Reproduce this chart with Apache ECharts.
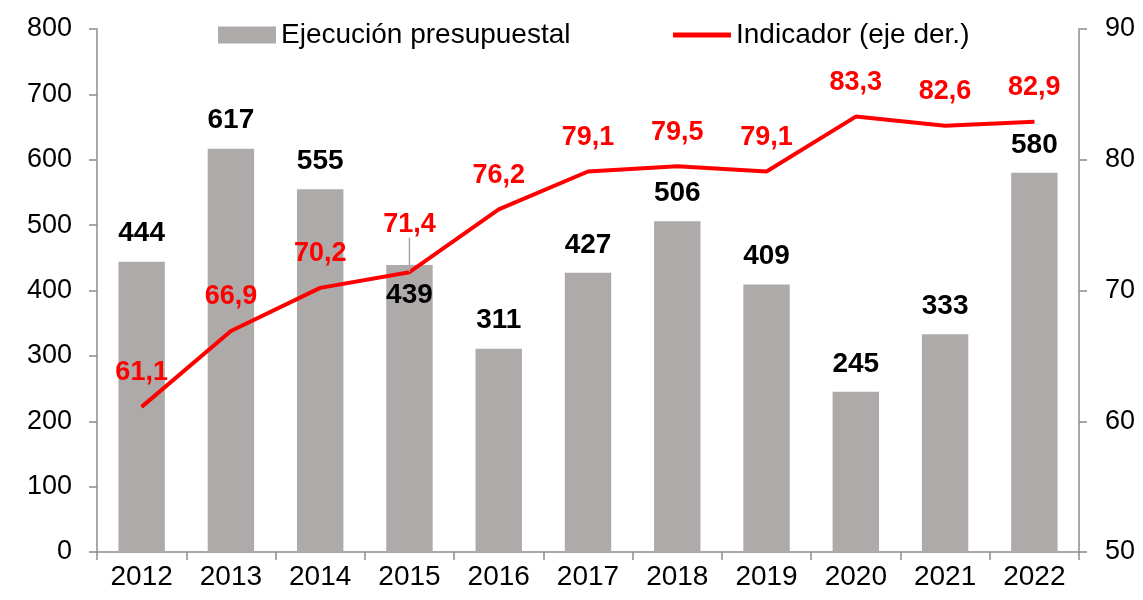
<!DOCTYPE html>
<html>
<head>
<meta charset="utf-8">
<script src="https://cdn.jsdelivr.net/npm/echarts@6/dist/echarts.min.js"></script>
<style>
    html, body { margin: 0; padding: 0; background: #fff; }
    #chart { width: 1143px; height: 600px; }
</style>
</head>
<body>
<div id="chart"></div>
<script>
// 数据
var years = ['2012', '2013', '2014', '2015', '2016', '2017', '2018', '2019', '2020', '2021', '2022'];
var ejecucion = [444, 617, 555, 439, 311, 427, 506, 409, 245, 333, 580];
var indicador = [61.1, 66.9, 70.2, 71.4, 76.2, 79.1, 79.5, 79.1, 83.3, 82.6, 82.9];
var leftTicks = [0, 800, 100]; // min, max, interval
var rightTicks = [50, 90, 10];

var FONT = 'Liberation Sans, Arial, sans-serif';
var AXIS_COLOR = '#8c8c8c';

var myChart = echarts.init(document.getElementById('chart'));

function fmtComma(v) {
    return v.toFixed(1).replace('.', ',');
}

// 2015年：柱标签放在柱内，折线标签上移并加引导线
var barData = ejecucion.map(function(v, i) {
    var item = { value: v };
    if (years[i] === '2015') {
        item.label = { position: 'insideTop', distance: 16 };
    }
    return item;
});
var lineData = indicador.map(function(v, i) {
    var item = { value: v };
    if (years[i] === '2015') {
        item.labelLine = { show: true, lineStyle: { color: '#a6a6a6', width: 1.5 } };
    }
    return item;
});

var legendText = { fontSize: 28, color: '#000', fontFamily: FONT };

var option = {
    animation: false,
    textStyle: { fontFamily: FONT },
    legend: [{
        top: 16,
        left: 213,
        itemWidth: 58,
        itemHeight: 17,
        textStyle: legendText,
        data: [{ name: 'Ejecución presupuestal', icon: 'rect' }]
    }, {
        top: 16,
        left: 668,
        itemWidth: 58,
        itemHeight: 17,
        textStyle: legendText,
        data: [{ name: 'Indicador (eje der.)', icon: 'path://M0,0 L12,0 L12,1 L0,1 Z' }]
    }],
    grid: { left: 97, right: 64, top: 29, bottom: 48 },
    xAxis: {
        type: 'category',
        data: years,
        axisLine: { lineStyle: { color: AXIS_COLOR, width: 1.5 } },
        axisTick: { show: true, length: 8, lineStyle: { color: AXIS_COLOR, width: 1.5 } },
        axisLabel: { fontSize: 28, color: '#000', margin: 11, fontFamily: FONT }
    },
    yAxis: [{
        type: 'value',
        min: leftTicks[0], max: leftTicks[1], interval: leftTicks[2],
        axisLine: { show: true, lineStyle: { color: AXIS_COLOR, width: 1.5 } },
        axisTick: { show: true, length: 8, lineStyle: { color: AXIS_COLOR, width: 1.5 } },
        splitLine: { show: false },
        axisLabel: { fontSize: 27, color: '#000', margin: 25, fontFamily: FONT }
    }, {
        type: 'value',
        min: rightTicks[0], max: rightTicks[1], interval: rightTicks[2],
        axisLine: { show: true, lineStyle: { color: AXIS_COLOR, width: 1.5 } },
        axisTick: { show: true, length: 8, lineStyle: { color: AXIS_COLOR, width: 1.5 } },
        splitLine: { show: false },
        axisLabel: { fontSize: 27, color: '#000', margin: 26, fontFamily: FONT }
    }],
    series: [{
        name: 'Ejecución presupuestal',
        type: 'bar',
        barWidth: '52%',
        itemStyle: { color: '#aeaaaa' },
        label: {
            show: true,
            position: 'top',
            distance: 14,
            fontSize: 28,
            fontWeight: 'bold',
            color: '#000',
            fontFamily: FONT
        },
        data: barData
    }, {
        name: 'Indicador (eje der.)',
        type: 'line',
        yAxisIndex: 1,
        showSymbol: true,
        symbol: 'circle',
        symbolSize: 1,
        lineStyle: { color: '#ff0000', width: 4 },
        itemStyle: { color: '#ff0000' },
        label: {
            show: true,
            position: 'top',
            distance: 20,
            fontSize: 27,
            fontWeight: 'bold',
            color: '#ff0000',
            fontFamily: FONT,
            formatter: function(p) { return fmtComma(p.value); }
        },
        labelLine: { show: false },
        labelLayout: function(params) {
            if (params.dataIndex === 3) {
                return { dy: -14 };
            }
        },
        data: lineData
    }]
};
myChart.setOption(option, true);
</script>
</body>
</html>
